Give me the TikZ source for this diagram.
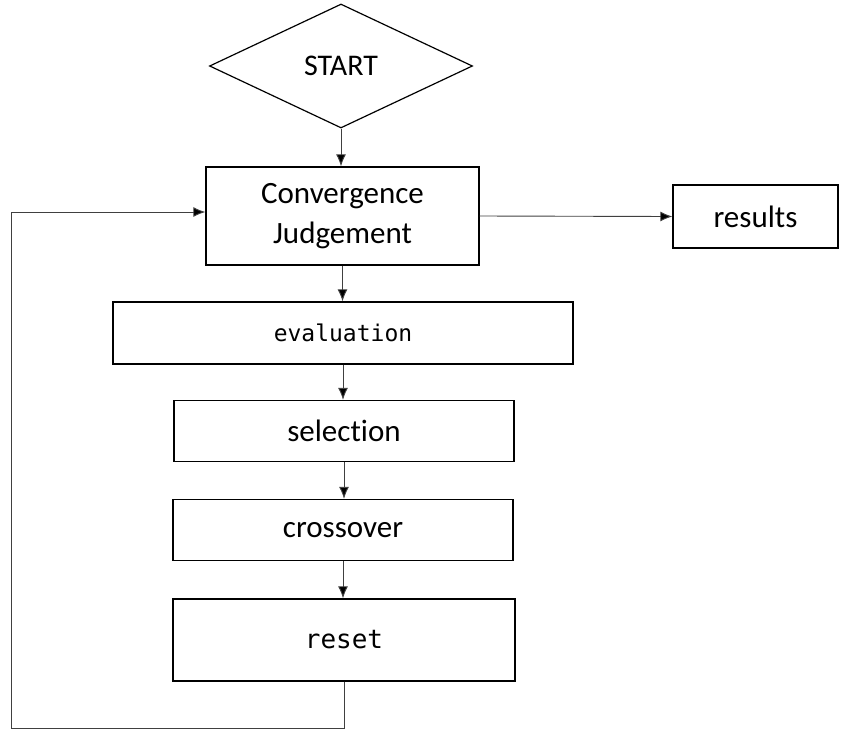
\documentclass[tikz,border=0pt]{standalone}
\usepackage{fontspec}
\setmainfont{Carlito}[Ligatures=NoCommon]
\newfontfamily\gothic{DejaVu Sans Mono}
\usetikzlibrary{shapes.geometric,arrows.meta}
\definecolor{conn}{HTML}{404040}
\begin{document}
\begin{tikzpicture}[x=1pt,y=-1pt,
  stepbox/.style={draw=black, line width=1.4pt, rectangle, inner sep=0pt, align=center,
    font=\fontsize{31}{40}\selectfont},
  gbox/.style={stepbox, font=\gothic\fontsize{23}{28}\selectfont},
  startshape/.style={draw=black, line width=1.2pt, diamond, inner sep=0pt,
    font=\fontsize{30}{36}\selectfont},
  conn/.style={draw=conn, line width=0.9pt, -{Latex[length=12pt,width=10pt,fill=black]}}
]
\useasboundingbox (0,0) rectangle (845,731);

\node[startshape, minimum width=263pt, minimum height=124pt] (start) at (341,66) {START};
\node[stepbox, minimum width=273pt, minimum height=98pt] (conv) at (342.5,216) {Convergence\\Judgement};
\node[stepbox, minimum width=165pt, minimum height=63pt] (res) at (755.5,216.5) {results};
\node[gbox, minimum width=460pt, minimum height=62pt] (eval) at (343,333) {evaluation};
\node[stepbox, minimum width=340pt, minimum height=61pt] (sel) at (344,431) {selection};
\node[stepbox, minimum width=340pt, minimum height=61pt] (cross) at (343,530) {crossover};
\node[gbox, font=\gothic\fontsize{26}{30}\selectfont, minimum width=342pt, minimum height=82pt] (reset) at (344,640) {reset};

\coordinate (lb) at (344,728);
\coordinate (lbl) at (11,728);
\coordinate (ltl) at (11,212);

\draw[conn] (start.south) -- (start.south |- conv.north);
\draw[conn] (conv.east) -- (res.west);
\draw[conn] (conv.south) -- (conv.south |- eval.north);
\draw[conn] (eval.south) -- (eval.south |- sel.north);
\draw[conn] (sel.south) -- (sel.south |- cross.north);
\draw[conn] (cross.south) -- (cross.south |- reset.north);
\draw[conn] (reset.south) -- (lb) -- (lbl) -- (ltl) -- (ltl -| conv.west);
\end{tikzpicture}
\end{document}
